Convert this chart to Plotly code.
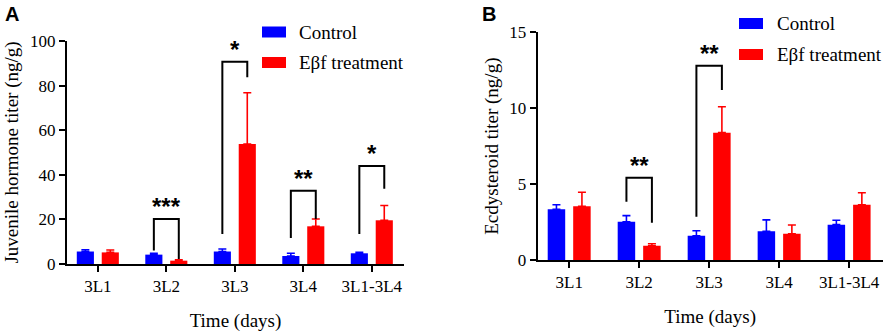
import plotly.graph_objects as go

categories = ["3L1", "3L2", "3L3", "3L4", "3L1-3L4"]

# Panel A: Juvenile hormone titer (ng/g)
jh_control = [5.6, 4.2, 5.6, 3.6, 4.8]
jh_control_err = [0.8, 0.6, 1.1, 1.2, 0.4]
jh_treat = [5.2, 1.5, 53.8, 16.9, 19.6]
jh_treat_err = [1.1, 0.4, 23.0, 3.3, 6.6]

# Panel B: Ecdysteroid titer (ng/g)
ec_control = [3.34, 2.52, 1.60, 1.89, 2.33]
ec_control_err = [0.30, 0.40, 0.33, 0.75, 0.29]
ec_treat = [3.54, 0.94, 8.39, 1.73, 3.64]
ec_treat_err = [0.92, 0.13, 1.71, 0.58, 0.79]

# Significance brackets: category index, top level, left leg bottom, right leg bottom, label
jh_sig_idx = [1, 2, 3, 4]
jh_sig_top = [20.2, 90.7, 32.9, 44.0]
jh_sig_left = [6.0, 13.5, 11.7, 13.5]
jh_sig_right = [2.2, 83.8, 20.2, 33.8]
jh_sig_label = ["***", "*", "**", "*"]

ec_sig_idx = [1, 2]
ec_sig_top = [5.42, 12.8]
ec_sig_left = [3.84, 2.85]
ec_sig_right = [2.46, 11.2]
ec_sig_label = ["**", "**"]

BLUE = "#0000FF"
RED = "#FF0000"
FONT = "'Liberation Serif', 'Times New Roman', Times, serif"
SANS = "'Liberation Sans', Arial, sans-serif"
W, H = 886, 333
OFF = 0.182
BW = 0.25

xs = list(range(len(categories)))

fig = go.Figure()


def add_bars(vals, errs, color, name, xa, ya, sign):
    fig.add_trace(go.Bar(
        x=xs, y=vals, name=name, width=BW, offset=sign * OFF - BW / 2,
        marker=dict(color=color, line=dict(width=0)),
        error_y=dict(type="data", array=errs, arrayminus=[0] * len(errs),
                     symmetric=False, color=color, thickness=1.6, width=4),
        xaxis=xa, yaxis=ya, showlegend=False, hoverinfo="skip",
    ))


add_bars(jh_control, jh_control_err, BLUE, "Control", "x", "y", -1)
add_bars(jh_treat, jh_treat_err, RED, "Eβf treatment", "x", "y", 1)
add_bars(ec_control, ec_control_err, BLUE, "Control", "x2", "y2", -1)
add_bars(ec_treat, ec_treat_err, RED, "Eβf treatment", "x2", "y2", 1)

shapes = []
annotations = []


def add_brackets(idx, top, left, right, labels, xr, yr):
    for i, t, l, r, lab in zip(idx, top, left, right, labels):
        x0, x1 = i - OFF, i + OFF
        shapes.append(dict(type="path", xref=xr, yref=yr,
                           path=f"M{x0},{l} L{x0},{t} L{x1},{t} L{x1},{r}",
                           line=dict(color="black", width=2)))
        annotations.append(dict(x=i, y=t, xref=xr, yref=yr, text=f"<b>{lab}</b>",
                                showarrow=False, yanchor="bottom", yshift=-3,
                                font=dict(family=SANS, size=24, color="black")))


add_brackets(jh_sig_idx, jh_sig_top, jh_sig_left, jh_sig_right, jh_sig_label, "x", "y")
add_brackets(ec_sig_idx, ec_sig_top, ec_sig_left, ec_sig_right, ec_sig_label, "x2", "y2")


# Manual legends (paper coordinates)
def add_legend(sw_x0, sw_x1, text_x, ys):
    for (yc, color, lab) in zip(ys, [BLUE, RED], ["Control", "Eβf treatment"]):
        shapes.append(dict(type="rect", xref="paper", yref="paper",
                           x0=sw_x0 / W, x1=sw_x1 / W,
                           y0=1 - (yc + 5.5) / H, y1=1 - (yc - 5.5) / H,
                           fillcolor=color, line=dict(width=0)))
        annotations.append(dict(x=text_x / W, y=1 - yc / H, xref="paper", yref="paper",
                                text=lab, showarrow=False, xanchor="left", yanchor="middle",
                                font=dict(family=FONT, size=19, color="black")))


add_legend(262, 286, 297, [32, 62.5])
add_legend(739, 763, 775, [23.5, 54.5])

# Panel letters
annotations.append(dict(x=3 / W, y=1 - 1 / H, xref="paper", yref="paper", text="<b>A</b>",
                        showarrow=False, xanchor="left", yanchor="top",
                        font=dict(family=SANS, size=20, color="black")))
annotations.append(dict(x=480 / W, y=1 - 1 / H, xref="paper", yref="paper", text="<b>B</b>",
                        showarrow=False, xanchor="left", yanchor="top",
                        font=dict(family=SANS, size=20, color="black")))

axis_common = dict(showgrid=False, zeroline=False, showline=True, linecolor="black",
                   linewidth=2, ticks="outside", tickcolor="black", tickwidth=2,
                   ticklen=6, automargin=False,
                   tickfont=dict(family=FONT, size=17, color="black"))

fig.update_layout(
    width=W, height=H, margin=dict(l=0, r=0, t=0, b=0, autoexpand=False),
    paper_bgcolor="white", plot_bgcolor="white",
    barmode="overlay",
    shapes=shapes, annotations=annotations,
    xaxis=dict(domain=[67 / W, 404 / W], range=[-0.45, 4.47], tickmode="array",
               tickvals=xs, ticktext=categories, anchor="y",
               title=dict(text="Time (days)", font=dict(family=FONT, size=19, color="black"),
                          standoff=18),
               **axis_common),
    yaxis=dict(domain=[(H - 264) / H, (H - 41) / H], range=[0, 100], tickvals=[0, 20, 40, 60, 80, 100],
               anchor="x",
               title=dict(text="Juvenile hormone titer (ng/g)",
                          font=dict(family=FONT, size=19, color="black"), standoff=6),
               **axis_common),
    xaxis2=dict(domain=[537.7 / W, 882.7 / W], range=[-0.45, 4.48], tickmode="array",
                tickvals=xs, ticktext=categories, anchor="y2",
                title=dict(text="Time (days)", font=dict(family=FONT, size=19, color="black"),
                           standoff=18),
                **axis_common),
    yaxis2=dict(domain=[(H - 260) / H, (H - 32.3) / H], range=[0, 15], tickvals=[0, 5, 10, 15],
                anchor="x2",
                title=dict(text="Ecdysteroid titer (ng/g)",
                           font=dict(family=FONT, size=19, color="black"), standoff=6),
                **axis_common),
)

fig.write_html("out.html", config={"displayModeBar": False},
               post_script="document.body.style.margin='0';document.body.style.overflow='hidden';")
